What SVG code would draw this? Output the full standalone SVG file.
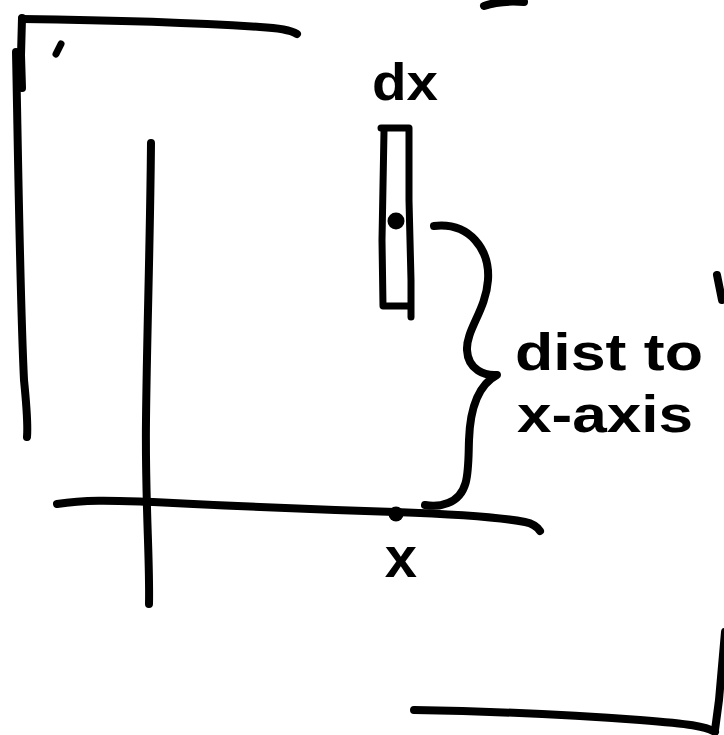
<svg xmlns="http://www.w3.org/2000/svg" width="724" height="735" viewBox="0 0 724 735">
<style>
.ink{fill:none;stroke:#000;stroke-width:8;stroke-linecap:round;stroke-linejoin:round}
.thin{fill:none;stroke:#000;stroke-width:7;stroke-linecap:round;stroke-linejoin:round}
.lbl{font-family:"Liberation Sans","DejaVu Sans",sans-serif;font-weight:bold;fill:#000}
</style>
<rect width="724" height="735" fill="#fff"/>
<g id="frame">
<path class="ink" d="M22,19 C100,20 200,23 260,27 C280,28 292,31 297,34"/>
<path class="ink" d="M22,18 L21,55 L22,88"/>
<path class="ink" d="M16,52 C18,150 20,300 24,380 C27,410 28,425 27,437"/>
<path class="thin" d="M56,54 L61,44"/>
<path class="ink" d="M484,6 C495,2 510,1 524,2"/>
<path class="ink" d="M717,275 L722,300"/>
<path class="ink" d="M725,632 L719,700 L715,730"/>
<path class="ink" d="M414,710 C470,711 560,714 640,720 C690,724 705,726 715,732"/>
</g>
<g id="y-axis">
<path class="ink" d="M151,143 C150,250 147,330 146,420 C145,500 150,560 149,604"/>
</g>
<g id="x-axis">
<path class="ink" d="M57,504 C90,499 120,501 153,502 C250,507 330,510 395,512 C450,514 500,517 525,522 C535,524 538,528 540,531"/>
<circle cx="396" cy="514" r="7.5"/>
<text class="lbl" x="401" y="577" font-size="58" text-anchor="middle">x</text>
</g>
<g id="dx-strip">
<path class="thin" d="M381,128 L409,128 L409,200 L411,280 L411,317"/>
<path class="thin" d="M384,131 L382,240 L383,306 L410,306"/>
<circle cx="396" cy="221" r="8.5"/>
<text class="lbl" x="405" y="100" font-size="52" text-anchor="middle" textLength="66" lengthAdjust="spacingAndGlyphs">dx</text>
</g>
<g id="connectors">
<path class="ink" d="M434,226 C470,222 490,250 488,280 C486,310 466,330 467,350 C468,370 485,376 497,375 C478,385 470,410 469,440 C468,470 470,495 448,503 C438,507 430,506 425,505"/>
</g>
<g id="label-dist">
<text class="lbl" x="515" y="370" font-size="52" textLength="188" lengthAdjust="spacingAndGlyphs">dist to</text>
<text class="lbl" x="517" y="432" font-size="52" textLength="176" lengthAdjust="spacingAndGlyphs">x-axis</text>
</g>
</svg>
